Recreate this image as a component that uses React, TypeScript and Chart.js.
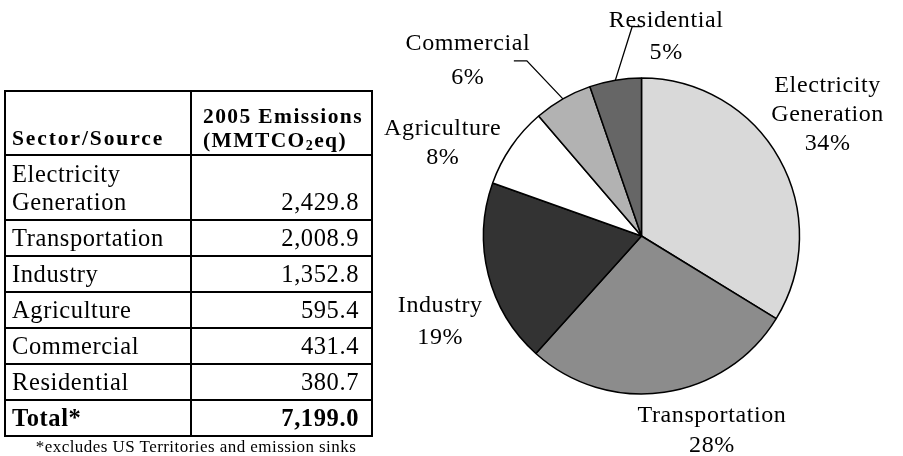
import React, { useEffect, useRef } from "react";
import { Chart, registerables } from "chart.js";

Chart.register(...registerables);

// ---------- data ----------
const sectors = [
  "Electricity Generation",
  "Transportation",
  "Industry",
  "Agriculture",
  "Commercial",
  "Residential",
];
const emissions = [2429.8, 2008.9, 1352.8, 595.4, 431.4, 380.7];
const sliceColors = ["#d9d9d9", "#8c8c8c", "#333333", "#ffffff", "#b2b2b2", "#666666"];
const headerSector = "Sector/Source";
const headerEmissionsLine1 = "2005 Emissions";
const totalLabel = "Total*";
const footnote = "*excludes US Territories and emission sinks";

// ---------- style / layout ----------
const SERIF = '"Liberation Serif", "Times New Roman", serif';
const PIE_FONT = 24;
const PIE_LS = "0.6px";
// label block centre, relative to pie centre in units of radius; lh = line height
const labelPlacement = [
  { dx: 1.178, dy: -0.777, lh: 29 },
  { dx: 0.446, dy: 1.223, lh: 30 },
  { dx: -1.274, dy: 0.535, lh: 32 },
  { dx: -1.258, dy: -0.6, lh: 29 },
  { dx: -1.099, dy: -1.121, lh: 34, leader: { ex: 59, ey: 2, hx: 46 } },
  { dx: 0.156, dy: -1.274, lh: 32, leader: { ex: -34, ey: -8, hx: -24 } },
];

const fmt = (v: number) =>
  v.toLocaleString("en-US", { minimumFractionDigits: 1, maximumFractionDigits: 1 });

const total = emissions.reduce((a, b) => a + b, 0);

const labelPlugin = {
  id: "sliceLabels",
  afterDraw(chart: any) {
    const meta = chart.getDatasetMeta(0);
    const ctx = chart.ctx as CanvasRenderingContext2D;
    const vals: number[] = chart.data.datasets[0].data;
    const sum = vals.reduce((a, b) => a + b, 0);
    ctx.save();
    ctx.font = `${PIE_FONT}px ${SERIF}`;
    (ctx as any).letterSpacing = PIE_LS;
    ctx.fillStyle = "#000";
    ctx.strokeStyle = "#000";
    ctx.textAlign = "center";
    ctx.textBaseline = "alphabetic";
    meta.data.forEach((arc: any, i: number) => {
      const { x, y, outerRadius, startAngle, endAngle } = arc.getProps(
        ["x", "y", "outerRadius", "startAngle", "endAngle"],
        true
      );
      const p = labelPlacement[i];
      const cx = x + p.dx * outerRadius;
      const cy = y + p.dy * outerRadius;
      const name = String(chart.data.labels[i]);
      const lines = [...name.split(" "), Math.round((vals[i] / sum) * 100) + "%"];
      const n = lines.length;
      lines.forEach((t, k) => {
        const ly = cy + (k - (n - 1) / 2) * p.lh;
        ctx.fillText(t, cx, ly + 0.33 * PIE_FONT);
      });
      if (p.leader) {
        const mid = (startAngle + endAngle) / 2;
        const ax = x + Math.cos(mid) * outerRadius;
        const ay = y + Math.sin(mid) * outerRadius;
        ctx.lineWidth = 1.3;
        ctx.beginPath();
        ctx.moveTo(ax, ay);
        ctx.lineTo(cx + p.leader.ex, cy + p.leader.ey);
        ctx.lineTo(cx + p.leader.hx, cy + p.leader.ey);
        ctx.stroke();
      }
    });
    ctx.restore();
  },
};

// table geometry
const T_LEFT = 4;
const T_RIGHT = 373;
const T_TOP = 90;
const COL_X = 190;
const LINE = 2;
const rowBottoms = [154, 219, 255, 291, 327, 363, 399, 435]; // y of horizontal rule (top edge)

const bodyFont: React.CSSProperties = {
  fontFamily: SERIF,
  fontSize: 24.5,
  letterSpacing: "0.6px",
  color: "#000",
};
const headFont: React.CSSProperties = {
  fontFamily: SERIF,
  fontSize: 21.5,
  fontWeight: "bold",
  letterSpacing: "1.4px",
  color: "#000",
  lineHeight: "24px",
};

function Table() {
  const els: React.ReactNode[] = [];
  els.push(
    <div
      key="box"
      style={{
        position: "absolute",
        left: T_LEFT,
        top: T_TOP,
        width: T_RIGHT - T_LEFT,
        height: rowBottoms[rowBottoms.length - 1] + LINE - T_TOP,
        border: `${LINE}px solid #000`,
        boxSizing: "border-box",
      }}
    />
  );
  els.push(
    <div
      key="vdiv"
      style={{
        position: "absolute",
        left: COL_X,
        top: T_TOP,
        width: LINE,
        height: rowBottoms[rowBottoms.length - 1] + LINE - T_TOP,
        background: "#000",
      }}
    />
  );
  rowBottoms.slice(0, -1).forEach((y, i) => {
    els.push(
      <div
        key={"h" + i}
        style={{
          position: "absolute",
          left: T_LEFT,
          top: y,
          width: T_RIGHT - T_LEFT,
          height: LINE,
          background: "#000",
        }}
      />
    );
  });
  els.push(
    <div
      key="hs"
      style={{
        ...headFont,
        letterSpacing: "1.9px",
        position: "absolute",
        left: T_LEFT + LINE + 6,
        top: T_TOP + LINE,
        width: COL_X - T_LEFT - LINE - 6,
        height: rowBottoms[0] - T_TOP - LINE,
        display: "flex",
        alignItems: "flex-end",
        paddingBottom: 4,
        boxSizing: "border-box",
        whiteSpace: "nowrap",
      }}
    >
      {headerSector}
    </div>
  );
  els.push(
    <div
      key="he"
      style={{
        ...headFont,
        position: "absolute",
        left: COL_X + LINE + 11,
        top: T_TOP + LINE,
        width: T_RIGHT - COL_X - LINE - 11,
        height: rowBottoms[0] - T_TOP - LINE,
        display: "flex",
        flexDirection: "column",
        justifyContent: "flex-end",
        paddingBottom: 2,
        boxSizing: "border-box",
        whiteSpace: "nowrap",
      }}
    >
      <div>{headerEmissionsLine1}</div>
      <div>
        (MMTCO<sub style={{ fontSize: 14, verticalAlign: "-3px", lineHeight: 0 }}>2</sub>eq)
      </div>
    </div>
  );
  const rows = sectors.map((s, i) => ({ name: s, value: fmt(emissions[i]), bold: false }));
  rows.push({ name: totalLabel, value: fmt(total), bold: true });
  rows.forEach((r, i) => {
    const top = rowBottoms[i] + LINE;
    const h = rowBottoms[i + 1] - top;
    const multi = i === 0;
    els.push(
      <div
        key={"n" + i}
        style={{
          ...bodyFont,
          fontWeight: r.bold ? "bold" : "normal",
          position: "absolute",
          left: T_LEFT + LINE + 6,
          top,
          width: COL_X - T_LEFT - LINE - 6,
          height: h,
          display: "flex",
          alignItems: "center",
          lineHeight: multi ? "28px" : `${h}px`,
        }}
      >
        <div>{r.name}</div>
      </div>
    );
    els.push(
      <div
        key={"v" + i}
        style={{
          ...bodyFont,
          fontWeight: r.bold ? "bold" : "normal",
          position: "absolute",
          left: COL_X + LINE,
          top,
          width: T_RIGHT - LINE - COL_X - LINE - 12,
          height: h,
          display: "flex",
          alignItems: multi ? "flex-end" : "center",
          justifyContent: "flex-end",
          lineHeight: multi ? "28px" : `${h}px`,
          paddingBottom: multi ? 3 : 0,
          boxSizing: "border-box",
        }}
      >
        <div>{r.value}</div>
      </div>
    );
  });
  els.push(
    <div
      key="foot"
      style={{
        position: "absolute",
        left: 0,
        top: 437,
        width: 392,
        textAlign: "center",
        fontFamily: SERIF,
        fontSize: 17,
        letterSpacing: "0.45px",
        lineHeight: "19px",
        color: "#000",
        whiteSpace: "nowrap",
      }}
    >
      {footnote}
    </div>
  );
  return <>{els}</>;
}

export default function App() {
  const canvasRef = useRef<HTMLCanvasElement | null>(null);

  useEffect(() => {
    const canvas = canvasRef.current;
    if (!canvas) return;
    const chart = new Chart(canvas, {
      type: "pie",
      data: {
        labels: sectors,
        datasets: [
          {
            data: emissions,
            backgroundColor: sliceColors,
            borderColor: "#000",
            borderWidth: 1.5,
            radius: 158,
          } as any,
        ],
      },
      options: {
        responsive: false,
        maintainAspectRatio: false,
        animation: false,
        devicePixelRatio: 1,
        events: [],
        layout: { padding: { left: 480, right: 100, top: 16, bottom: 0 } },
        plugins: {
          legend: { display: false },
          tooltip: { enabled: false },
        },
      },
      plugins: [labelPlugin as any],
    });
    return () => chart.destroy();
  }, []);

  return (
    <div
      style={{
        position: "absolute",
        left: 0,
        top: 0,
        width: 903,
        height: 456,
        background: "#fff",
        overflow: "hidden",
      }}
    >
      <canvas
        ref={canvasRef}
        width={903}
        height={456}
        style={{ position: "absolute", left: 0, top: 0, width: 903, height: 456, display: "block" }}
      />
      <Table />
    </div>
  );
}
